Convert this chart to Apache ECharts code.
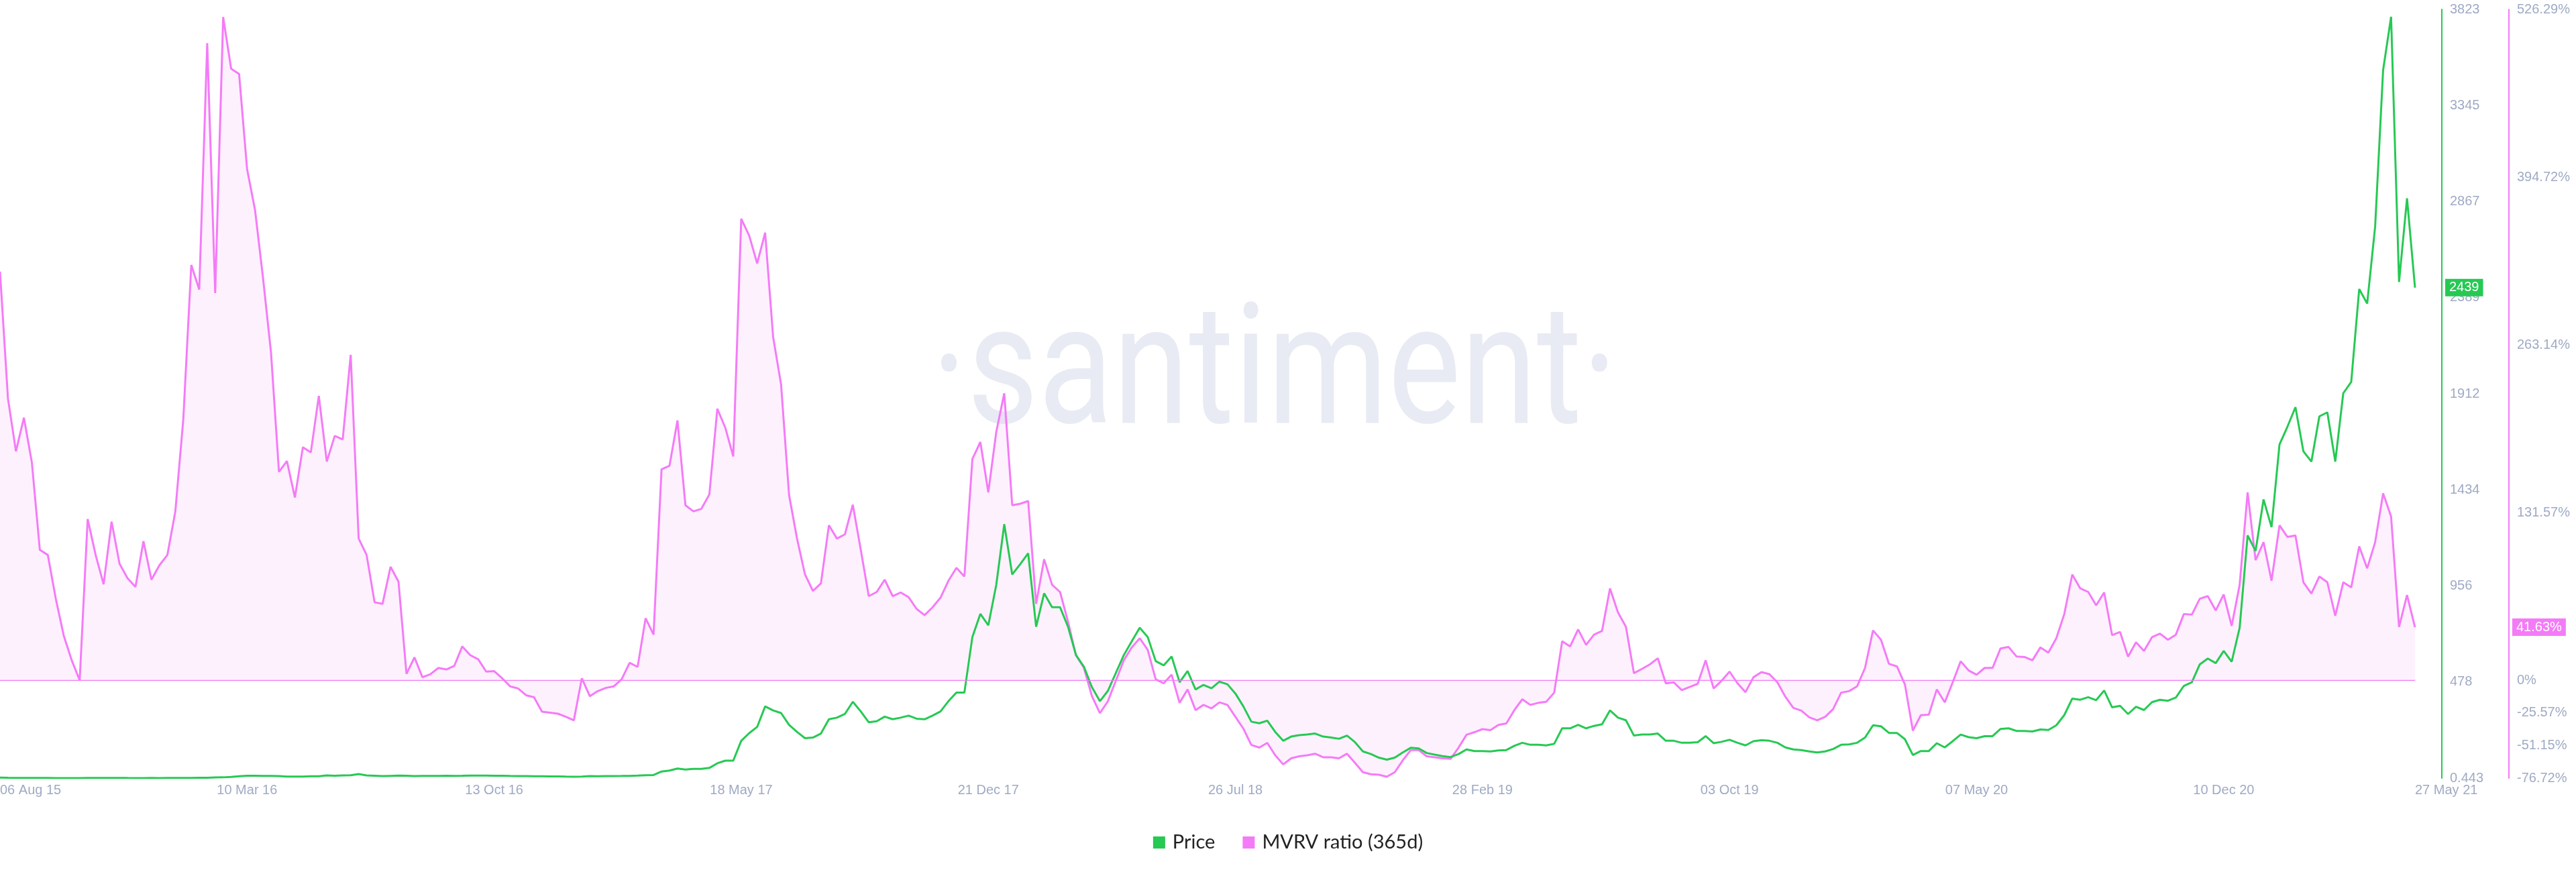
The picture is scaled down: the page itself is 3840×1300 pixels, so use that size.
<!DOCTYPE html>
<html>
<head>
<meta charset="utf-8">
<script src="https://cdn.jsdelivr.net/npm/echarts@6/dist/echarts.min.js"></script>
<style>
html,body{margin:0;padding:0;background:#ffffff;}
#chart{width:3840px;height:1300px;}
</style>
</head>
<body>
<div id="chart"></div>
<script>
// ---- data (weekly points, first point 06 Aug 2015) ----
const startDateUTC = [2015, 7, 6];
const weekCount = 304;
const seriesNames = ['Price', 'MVRV ratio (365d)'];

const price = [
  2.77, 1.83, 1.43, 1.15, 1.26, 0.95, 0.88, 0.76, 0.68, 0.62,
  0.443, 0.98, 1.0, 0.9, 0.93, 0.95, 0.87, 0.83, 0.84, 0.88,
  0.86, 0.94, 0.95, 1.22, 1.55, 2.35, 2.5, 4.0, 4.2, 6.3,
  9.5, 11.8, 12.0, 11.0, 11.4, 10.6, 8.1, 7.9, 8.0, 9.6,
  10.0, 13.8, 12.4, 13.9, 14.5, 20.6, 14.0, 12.4, 10.1, 11.6,
  12.9, 12.3, 10.8, 11.0, 10.9, 11.2, 12.0, 11.6, 12.3, 13.2,
  13.1, 12.9, 11.9, 12.1, 11.3, 10.6, 10.4, 9.9, 9.3, 8.4,
  8.5, 7.8, 7.4, 8.2, 10.2, 9.8, 10.6, 10.6, 10.9, 11.3,
  12.9, 15.0, 15.5, 33, 38, 48, 43, 46, 46, 51,
  74, 87, 87, 186, 224, 255, 357, 337, 324, 265,
  230, 199, 202, 222, 293, 301, 319, 380, 332, 278,
  283, 306, 293, 301, 311, 296, 293, 311, 332, 383,
  426, 426, 702, 817, 760, 962, 1263, 1013, 1064, 1118,
  753, 919, 850, 850, 753, 612, 554, 452, 383, 434,
  523, 612, 681, 748, 702, 582, 561, 605, 477, 533,
  441, 464, 447, 480, 467, 421, 357, 281, 273, 286,
  230, 186, 207, 214, 217, 222, 207, 202, 196, 212,
  179, 133, 120, 102, 92, 102, 128, 151, 148, 125,
  117, 110, 105, 120, 143, 135, 135, 133, 138, 140,
  161, 176, 166, 166, 163, 171, 248, 248, 265, 248,
  260, 268, 337, 301, 288, 212, 217, 217, 222, 186,
  186, 176, 176, 179, 209, 174, 181, 191, 176, 163,
  184, 189, 186, 176, 153, 143, 140, 133, 128, 133,
  145, 166, 168, 176, 202, 263, 258, 225, 225, 194,
  115, 135, 135, 174, 153, 184, 217, 204, 199, 209,
  209, 245, 248, 235, 235, 232, 242, 240, 263, 314,
  396, 390, 403, 388, 436, 352, 360, 319, 355, 339,
  378, 390, 385, 401, 459, 477, 566, 595, 572, 633,
  579, 748, 1207, 1130, 1386, 1248, 1659, 1748, 1845, 1625,
  1574, 1799, 1819, 1574, 1914, 1970, 2432, 2360, 2743, 3521,
  3786, 2467, 2883, 2439
];

const mvrv = [
  320.6, 221, 179.6, 206, 170.8, 102.3, 98.3, 64, 35, 15.7,
  0, 126.5, 98.3, 75.3, 124.4, 91.4, 80.1, 73.3, 109.1, 78.9,
  90.2, 98.3, 132.5, 205, 325.8, 306.5, 499.8, 303.7, 520.3, 479.7,
  475.6, 401.1, 368.9, 315.7, 257.3, 163.5, 172, 143.4, 182.8, 178.8,
  223.1, 171.6, 191.7, 188.9, 255.3, 111.2, 98.3, 61.2, 60, 89,
  77.3, 5, 18, 2.4, 4.8, 9.7, 8.5, 11.3, 26.6, 19.7,
  16.5, 6.8, 7.2, 1.6, -4.8, -6.4, -11.7, -13.3, -24.6, -25.4,
  -26.2, -28.6, -31.4, 1.6, -12.5, -8.5, -6, -4.8, 0.8, 13.7,
  10.5, 48.7, 35.8, 165.5, 168.3, 203.8, 137.3, 132.5, 134.5, 145.8,
  213, 198.1, 175.6, 362.1, 348.8, 327, 351.2, 269.4, 232, 145.4,
  111.2, 83, 70.1, 76.1, 121.6, 111.2, 114.4, 137.7, 102.3, 66,
  69.3, 78.9, 66, 68.9, 65.2, 56, 51.1, 57.2, 64.8, 78.1,
  88.2, 81.4, 173.6, 186.9, 147.4, 194.9, 225.1, 137.3, 138.5, 140.6,
  60, 95, 74.9, 69.3, 45.9, 19.7, 9.7, -12.5, -25.8, -16.5,
  -0.4, 15.7, 25.8, 33, 23.8, 0.8, -2.4, 4.4, -17.7, -7.2,
  -23.4, -19.3, -22, -17.3, -19.3, -28.6, -37.9, -50.7, -52.8, -49.1,
  -58.8, -66, -61.2, -59.6, -58.8, -57.6, -60.4, -60.4, -61.2, -57.6,
  -64.8, -72.1, -73.7, -74.1, -75.7, -72.1, -62.8, -54.8, -54.8, -59.6,
  -60.4, -61.2, -61.6, -52.8, -42.7, -40.7, -38.3, -39.1, -35, -33.8,
  -23.4, -14.9, -19.3, -17.7, -16.9, -9.7, 30.6, 26.6, 39.9, 27.8,
  35.8, 38.7, 72.1, 53.2, 41.9, 5.6, 8.9, 12.5, 17.3, -2.4,
  -1.6, -7.7, -5.2, -2.8, 15.7, -6.4, -0.4, 6.8, -2.4, -9.3,
  2.4, 6.4, 4.8, -1.6, -12.9, -21.7, -23.8, -29, -31.4, -28.6,
  -22.6, -9.7, -8.5, -4.8, 9.7, 39.1, 31.8, 12.9, 10.9, -3.2,
  -39.5, -27.4, -27, -7.2, -17.3, -1.6, 14.9, 7.7, 4.4, 9.7,
  9.7, 25, 26.2, 18.7, 18.3, 15.7, 25.8, 21.7, 33, 52,
  83, 72.1, 69.3, 58.8, 68.9, 35.4, 37.9, 18.5, 29.8, 23,
  33.8, 36.6, 31.8, 35.8, 52, 51.5, 64, 66, 54.8, 67.3,
  42.7, 74.9, 147.4, 94.2, 108.3, 78.1, 121.6, 112.4, 113.6, 76.9,
  68.1, 81.4, 76.9, 50.7, 76.9, 72.9, 105.1, 87.8, 108.3, 146.6,
  128.5, 41.9, 66.9, 41.63
];

const priceAxisRange = [0.443, 3822.6];
const mvrvAxisRange = [-76.72, 526.29];
const mvrvTicks = [-76.72, -51.15, -25.57, 0, 131.57, 263.14, 394.72, 526.29];
const monthNames = ['Jan','Feb','Mar','Apr','May','Jun','Jul','Aug','Sep','Oct','Nov','Dec'];

// weekly category labels like "06 Aug 15"
const categories = [];
const t0 = Date.UTC(startDateUTC[0], startDateUTC[1], startDateUTC[2]);
for (let i = 0; i < weekCount; i++) {
  const d = new Date(t0 + i * 7 * 86400000);
  const dd = String(d.getUTCDate()).padStart(2, '0');
  categories.push(dd + ' ' + monthNames[d.getUTCMonth()] + ' ' + String(d.getUTCFullYear()).slice(2));
}

// ---- styles ----
const GREEN = '#26c953';
const PINK = '#f47bf7';
const LABEL = '#9faac4';
const FONT = '"Liberation Sans", Arial, sans-serif';

const chart = echarts.init(document.getElementById('chart'), null, {renderer: 'canvas'});

const option = {
  animation: false,
  backgroundColor: '#ffffff',
  textStyle: {fontFamily: FONT},
  grid: {left: 0, right: 240, top: 14, bottom: 140, containLabel: false, outerBoundsMode: 'none'},
  graphic: [{
    type: 'text',
    x: 1900,
    y: 567,
    scaleY: 1.22,
    z: 0,
    silent: true,
    style: {
      text: '\u00B7santiment\u00B7',
      font: '205px Roboto, "Open Sans", sans-serif',
      fill: '#e8ebf3',
      textAlign: 'center',
      textVerticalAlign: 'middle'
    }
  }],
  legend: {
    data: seriesNames,
    left: 'center',
    top: 1236,
    icon: 'rect',
    itemWidth: 18,
    itemHeight: 18,
    itemGap: 41,
    textStyle: {fontSize: 29, lineHeight: 30, color: '#222222', fontFamily: 'Lato, "Liberation Sans", sans-serif', padding: [0, 0, 0, 6]}
  },
  xAxis: {
    type: 'category',
    data: categories,
    boundaryGap: false,
    axisLine: {show: true, lineStyle: {color: '#e3e6ef', width: 2}},
    axisTick: {show: false},
    splitLine: {show: false},
    axisLabel: {
      interval: 30,
      showMaxLabel: true,
      alignMinLabel: 'left',
      alignMaxLabel: 'left',
      color: LABEL,
      fontSize: 20,
      margin: 8,
      fontFamily: FONT
    }
  },
  yAxis: [
    {
      type: 'value',
      position: 'right',
      offset: 40,
      min: priceAxisRange[0],
      max: priceAxisRange[1],
      interval: (priceAxisRange[1] - priceAxisRange[0]) / 8,
      axisLine: {show: true, lineStyle: {color: GREEN, width: 2}},
      axisTick: {show: false},
      splitLine: {show: false},
      axisLabel: {
        color: LABEL, fontSize: 20, margin: 12, fontFamily: FONT,
        formatter: v => (v < 1 ? String(+v.toFixed(3)) : String(Math.round(v)))
      },
      axisPointer: {
        show: true,
        type: 'line',
        status: 'show',
        value: price[price.length - 1],
        triggerTooltip: false,
        lineStyle: {opacity: 0},
        handle: {show: false},
        label: {
          show: true,
          margin: 5,
          backgroundColor: GREEN,
          color: '#ffffff',
          fontSize: 20,
          fontFamily: FONT,
          padding: [3, 6, 3, 6],
          borderRadius: 0,
          formatter: p => String(Math.round(p.value))
        }
      }
    },
    {
      type: 'value',
      position: 'right',
      offset: 140,
      min: mvrvAxisRange[0],
      max: mvrvAxisRange[1],
      axisLine: {show: true, lineStyle: {color: PINK, width: 2}},
      axisTick: {show: false},
      splitLine: {show: false},
      axisLabel: {
        color: LABEL, fontSize: 20, margin: 12, fontFamily: FONT,
        customValues: mvrvTicks,
        formatter: v => (Math.round(v * 100) / 100) + '%'
      },
      axisPointer: {
        show: true,
        type: 'line',
        status: 'show',
        value: mvrv[mvrv.length - 1],
        triggerTooltip: false,
        lineStyle: {opacity: 0},
        handle: {show: false},
        label: {
          show: true,
          margin: 5,
          backgroundColor: PINK,
          color: '#ffffff',
          fontSize: 20,
          fontFamily: FONT,
          padding: [3, 6, 3, 6],
          borderRadius: 0,
          formatter: p => Number(p.value).toFixed(2) + '%'
        }
      }
    }
  ],
  series: [
    {
      name: seriesNames[0],
      type: 'line',
      yAxisIndex: 0,
      data: price,
      showSymbol: false,
      symbol: 'none',
      z: 4,
      color: GREEN,
      lineStyle: {color: GREEN, width: 3}
    },
    {
      name: seriesNames[1],
      type: 'line',
      yAxisIndex: 1,
      data: mvrv,
      showSymbol: false,
      symbol: 'none',
      z: 3,
      color: PINK,
      lineStyle: {color: PINK, width: 3},
      areaStyle: {color: 'rgba(244,123,247,0.15)'},
      markLine: {
        silent: true,
        symbol: ['none', 'none'],
        label: {show: false},
        lineStyle: {color: PINK, width: 1, type: 'solid'},
        data: [{yAxis: 0}]
      }
    }
  ]
};

chart.setOption(option);
</script>
</body>
</html>
